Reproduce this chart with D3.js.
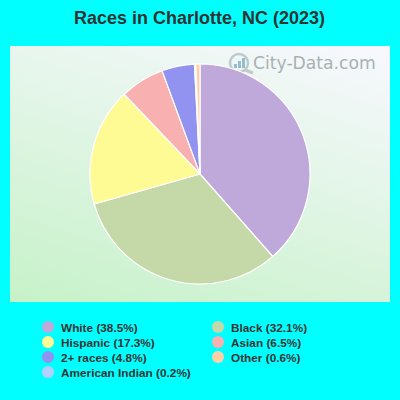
<!DOCTYPE html>
<html><head><meta charset="utf-8">
<script src="https://cdn.jsdelivr.net/npm/d3@7"></script>
<style>html,body{margin:0;padding:0;background:#00ffff}svg{display:block}</style>
</head><body><svg id="c" width="400" height="400"></svg>
<script>
const categories=["White","Black","Hispanic","Asian","2+ races","American Indian","Other"];
const values=[38.5,32.1,17.3,6.5,4.8,0.2,0.6];
const colors=["#bfa8da","#c4d8a8","#fffb94","#f8b0b0","#9292f0","#b0d0ff","#ffd0a8"];
const legendOrder=[0,2,4,5,1,3,6];
const title="Races in Charlotte, NC (2023)";
const font="Arial, 'Liberation Sans', sans-serif";
const svg=d3.select("#c");
const defs=svg.append("defs");
const g=defs.append("linearGradient").attr("id","bg").attr("gradientUnits","userSpaceOnUse")
 .attr("x1",10).attr("y1",302).attr("x2",118).attr("y2",-39);
g.append("stop").attr("offset",0).attr("stop-color","#c6f2c8");
g.append("stop").attr("offset",1).attr("stop-color","#f8f8ff");
svg.append("rect").attr("x",10).attr("y",46).attr("width",380).attr("height",256).attr("fill","url(#bg)");
svg.append("text").attr("x",199.5).attr("y",24).attr("text-anchor","middle")
 .attr("font-family",font).attr("font-size",18).attr("font-weight","bold").attr("fill","#333").text(title);
// watermark
const wm=svg.append("g").attr("opacity",.7);
wm.append("circle").attr("cx",239).attr("cy",63).attr("r",9).attr("fill","none").attr("stroke","#a9b9b9").attr("stroke-width",2.5);
wm.append("line").attr("x1",245).attr("y1",70).attr("x2",253).attr("y2",73).attr("stroke","#a9b9b9").attr("stroke-width",3);
[[234,4],[238,7],[242,10]].forEach(b=>wm.append("rect").attr("x",b[0]).attr("y",68-b[1]).attr("width",3).attr("height",b[1]).attr("fill","#6fa5c0"));
wm.append("text").attr("x",253).attr("y",69).attr("font-family","'DejaVu Sans',sans-serif").attr("font-size",17.2).attr("fill","#8a9494").text("City-Data.com");
// pie
const pie=d3.pie().value(d=>d).sort(null);
const arc=d3.arc().innerRadius(0).outerRadius(110);
svg.append("g").attr("transform","translate(200,174)").selectAll("path").data(pie(values)).join("path")
 .attr("d",arc).attr("fill",(d,i)=>colors[i]).attr("stroke","#fff").attr("stroke-width",1.2);
// legend
const colX=d3.scaleOrdinal().domain([0,1]).range([48,218]);
const rowY=d3.scaleLinear().domain([0,3]).range([327,372]);
legendOrder.forEach((idx,k)=>{
 const col=k<4?0:1,row=k<4?k:k-4;
 svg.append("circle").attr("cx",colX(col)).attr("cy",rowY(row)).attr("r",6).attr("fill",colors[idx]);
 svg.append("text").attr("x",colX(col)+13).attr("y",rowY(row)+4.5).attr("font-family",font).attr("font-size",11.8).attr("font-weight","bold").attr("fill","#333")
  .text(`${categories[idx]} (${values[idx]}%)`);
});
</script></body></html>
